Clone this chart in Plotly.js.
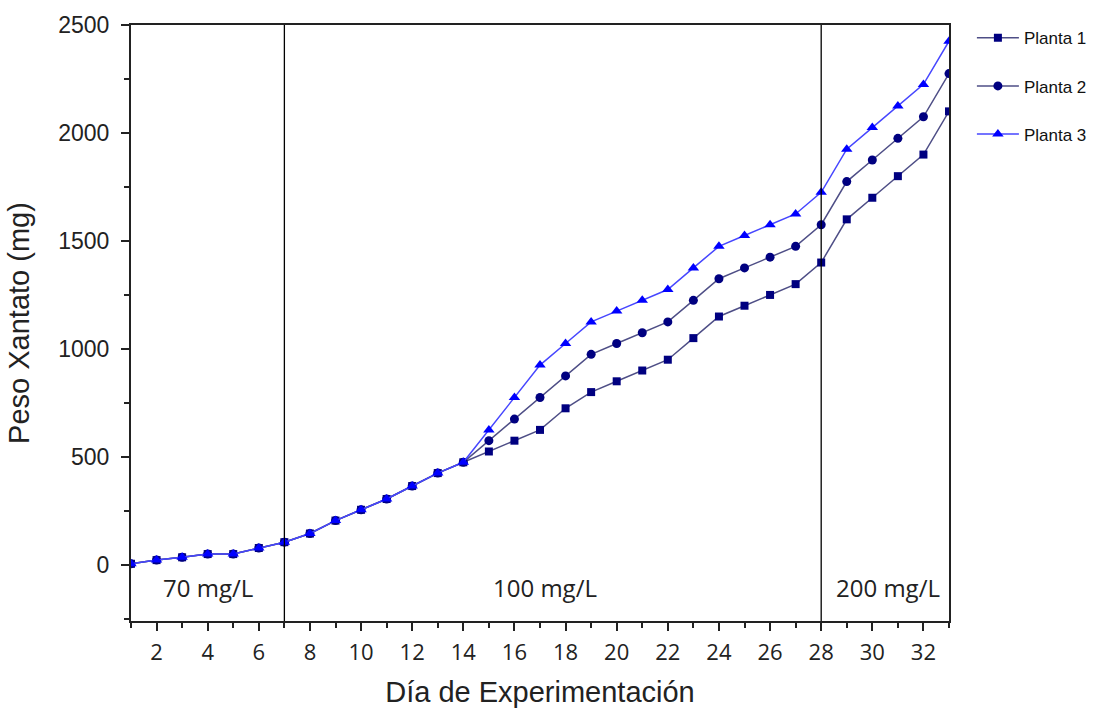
<!DOCTYPE html>
<html>
<head>
<meta charset="utf-8">
<script src="https://cdn.plot.ly/plotly-3.0.1.min.js"></script>
<style>html,body{margin:0;padding:0;background:#fff;}#chart{width:1109px;height:710px;}</style>
</head>
<body>
<div id="chart"></div>
<script>
const days = [1,2,3,4,5,6,7,8,9,10,11,12,13,14,15,16,17,18,19,20,21,22,23,24,25,26,27,28,29,30,31,32,33];
const planta1 = [5,22,35,50,50,78,105,145,205,255,305,365,425,475,525,575,625,725,800,850,900,950,1050,1150,1200,1250,1300,1400,1600,1700,1800,1900,2100];
const planta2 = [5,22,35,50,50,78,105,145,205,255,305,365,425,475,575,675,775,875,975,1025,1075,1125,1225,1325,1375,1425,1475,1575,1775,1875,1975,2075,2275];
const planta3 = [5,22,35,50,50,78,105,145,205,255,305,365,425,475,625,775,925,1025,1125,1175,1225,1275,1375,1475,1525,1575,1625,1725,1925,2025,2125,2225,2425];
const seriesNames = ['Planta 1','Planta 2','Planta 3'];
const phaseBoundaries = [7, 28];
const phaseLabels = ['70 mg/L','100 mg/L','200 mg/L'];
const phaseLabelX = [4, 17.2, 30.6];
const phaseLabelY = -105;

const traces = [
  {x: days, y: planta1, name: seriesNames[0], mode: 'lines+markers', legendgroup: 'a',
   line: {color: '#4e4e86', width: 1.5}, marker: {symbol: 'square', size: 8, color: '#000080'}},
  {x: days, y: planta2, name: seriesNames[1], mode: 'lines+markers', legendgroup: 'b',
   line: {color: '#4e4e86', width: 1.5}, marker: {symbol: 'circle', size: 9, color: '#000080'}},
  {x: days, y: planta3, name: seriesNames[2], mode: 'lines+markers', legendgroup: 'c',
   line: {color: '#4646ff', width: 1.5}, marker: {symbol: 'triangle-up', size: 10, color: '#0000ff'}}
];

const shapes = phaseBoundaries.map(b => ({
  type: 'line', xref: 'x', yref: 'paper', x0: b, x1: b, y0: 0, y1: 1,
  line: {color: '#000', width: 1.3}
}));

const annotations = phaseLabels.map((t, i) => ({
  x: phaseLabelX[i], y: phaseLabelY, xref: 'x', yref: 'y', text: t, showarrow: false,
  font: {family: 'Open Sans, sans-serif', size: 24, color: '#222'}
}));

const layout = {
  width: 1109, height: 710,
  margin: {l: 131, r: 160, t: 25, b: 89},
  paper_bgcolor: '#fff', plot_bgcolor: '#fff',
  showlegend: true,
  legend: {x: 1.028, y: 1.008, xanchor: 'left', yanchor: 'top', tracegroupgap: 23, itemwidth: 42,
           font: {family: 'Liberation Sans, Arial, sans-serif', size: 17, color: '#111'},
           bgcolor: 'rgba(0,0,0,0)'},
  xaxis: {
    range: [1, 33], showgrid: false, zeroline: false,
    showline: true, linecolor: '#222', linewidth: 2, mirror: true,
    ticks: 'outside', ticklen: 8, tickwidth: 2, tickcolor: '#222',
    tick0: 0, dtick: 2, ticklabelstandoff: 3,
    minor: {ticks: 'outside', ticklen: 5, tickwidth: 2, tickcolor: '#222', dtick: 1, tick0: 1, showgrid: false},
    tickfont: {family: 'Open Sans, sans-serif', size: 22, color: '#222'},
    title: {text: 'Día de Experimentación', font: {family: 'Liberation Sans, Arial, sans-serif', size: 29, color: '#222'}, standoff: 16}
  },
  yaxis: {
    range: [-260, 2500], showgrid: false, zeroline: false,
    showline: true, linecolor: '#222', linewidth: 2, mirror: true,
    ticks: 'outside', ticklen: 8, tickwidth: 2, tickcolor: '#222',
    tick0: 0, dtick: 500, ticklabelstandoff: 7,
    minor: {ticks: 'outside', ticklen: 5, tickwidth: 2, tickcolor: '#222', dtick: 250, showgrid: false},
    tickfont: {family: 'Liberation Sans, Arial, sans-serif', size: 23, color: '#222'},
    title: {text: 'Peso Xantato (mg)', font: {family: 'Liberation Sans, Arial, sans-serif', size: 29, color: '#222'}, standoff: 20}
  },
  shapes: shapes,
  annotations: annotations
};

Plotly.newPlot('chart', traces, layout, {displayModeBar: false, staticPlot: true});
</script>
</body>
</html>
